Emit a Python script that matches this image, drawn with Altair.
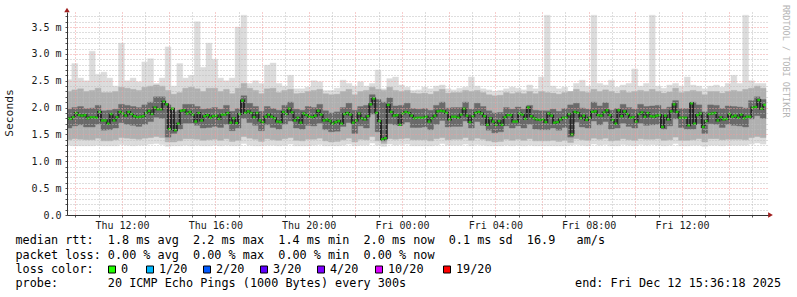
import altair as alt
import pandas as pd

MONO = "DejaVu Sans Mono"

# time axis in hours since Thu 00:00
START_H = 9.6
COL_H = 0.25      # 15-minute smoke columns
HALF_H = 0.125    # 7.5-minute median steps
X_DOMAIN = [9.643, 39.686]
Y_DOMAIN = [0, 3.78]

# ---- smoke (ms) per 15-min column ----
ping_max = [
2.52,2.82,2.55,2.50,3.05,2.62,2.66,2.55,2.40,3.20,
2.50,2.55,2.48,2.85,2.91,2.45,2.55,3.13,2.40,2.82,
2.55,2.60,3.60,2.75,3.20,2.90,2.55,2.50,2.55,3.50,
3.72,2.45,2.50,2.45,2.79,2.83,2.45,2.40,2.60,2.35,
2.35,2.38,2.50,2.48,2.32,2.32,2.36,2.51,2.45,2.40,
2.48,2.40,2.45,2.70,2.35,2.54,2.57,2.42,2.38,2.32,
2.33,2.38,2.35,2.40,2.42,2.35,2.33,2.36,2.38,2.57,
2.40,2.35,2.33,2.30,2.32,2.35,2.38,2.36,2.33,2.42,
2.35,2.57,3.72,2.40,2.35,2.38,2.30,2.45,2.51,2.40,
3.72,2.45,2.42,2.51,2.38,2.42,2.45,2.72,2.40,2.45,
3.72,2.40,2.36,2.42,2.45,2.40,2.57,2.42,2.40,2.35,
2.40,2.42,2.38,2.45,2.60,2.45,3.72,2.50,2.45,2.45]

smoke_hi = [
2.30,2.33,2.35,2.30,2.32,2.36,2.28,2.28,2.30,2.38,
2.36,2.34,2.32,2.38,2.40,2.42,2.40,2.32,2.25,2.28,
2.36,2.38,2.35,2.30,2.36,2.36,2.30,2.34,2.26,2.36,
2.45,2.36,2.32,2.26,2.35,2.36,2.28,2.32,2.34,2.26,
2.27,2.30,2.32,2.34,2.26,2.24,2.25,2.30,2.34,2.24,
2.30,2.32,2.38,2.34,2.32,2.38,2.32,2.30,2.32,2.27,
2.26,2.27,2.25,2.30,2.34,2.27,2.28,2.28,2.32,2.30,
2.32,2.28,2.24,2.22,2.23,2.28,2.26,2.28,2.26,2.30,
2.26,2.30,2.28,2.27,2.25,2.28,2.30,2.34,2.30,2.28,
2.34,2.30,2.33,2.30,2.27,2.32,2.28,2.30,2.32,2.30,
2.34,2.30,2.27,2.29,2.36,2.28,2.30,2.32,2.30,2.24,
2.30,2.30,2.27,2.30,2.32,2.30,2.34,2.36,2.40,2.36]

core_hi = [
1.97,2.00,2.02,1.98,1.99,2.04,1.94,1.95,1.97,2.06,
2.04,2.02,2.00,2.05,2.10,2.20,2.20,2.05,1.92,1.95,
2.06,2.06,2.02,1.97,1.98,2.00,1.97,2.04,1.93,1.98,
2.22,2.08,2.02,1.93,2.02,1.98,1.95,2.04,2.10,1.97,
1.95,2.02,2.00,2.06,1.94,1.90,1.92,2.00,2.08,1.95,
2.02,2.04,2.24,2.15,2.10,2.18,2.03,2.04,2.08,1.98,
1.97,1.98,1.95,2.04,2.10,1.99,2.00,2.00,2.10,1.97,
2.08,2.02,1.94,1.90,1.91,2.00,1.97,2.01,1.97,2.04,
1.95,1.94,1.94,1.97,1.93,1.98,2.05,2.08,1.99,1.97,
2.10,2.03,2.09,1.95,1.98,2.06,2.00,1.97,2.06,2.02,
2.03,2.04,1.97,2.01,2.13,1.98,1.98,2.10,2.05,1.92,
2.05,2.04,1.98,2.03,2.02,2.01,1.99,2.13,2.20,2.15]

core_lo = [
1.62,1.66,1.68,1.64,1.64,1.69,1.58,1.59,1.62,1.72,
1.69,1.67,1.65,1.69,1.74,1.82,1.80,1.45,1.52,1.60,
1.71,1.71,1.67,1.62,1.63,1.65,1.63,1.69,1.57,1.62,
1.80,1.72,1.67,1.57,1.68,1.63,1.60,1.69,1.75,1.62,
1.60,1.67,1.66,1.71,1.59,1.55,1.56,1.65,1.72,1.52,
1.66,1.62,1.88,1.55,1.38,1.70,1.68,1.69,1.73,1.63,
1.63,1.64,1.59,1.69,1.76,1.64,1.65,1.65,1.75,1.62,
1.74,1.67,1.58,1.53,1.55,1.66,1.62,1.66,1.62,1.69,
1.60,1.59,1.59,1.62,1.58,1.63,1.45,1.73,1.64,1.62,
1.75,1.68,1.74,1.60,1.62,1.71,1.65,1.62,1.71,1.67,
1.68,1.69,1.60,1.66,1.79,1.63,1.60,1.60,1.70,1.52,
1.70,1.69,1.63,1.69,1.67,1.66,1.64,1.79,1.85,1.80]

smoke_lo = [
1.40,1.42,1.41,1.40,1.40,1.43,1.38,1.38,1.40,1.44,
1.43,1.42,1.41,1.43,1.44,1.46,1.44,1.36,1.36,1.38,
1.42,1.42,1.41,1.39,1.40,1.41,1.39,1.42,1.37,1.39,
1.46,1.43,1.41,1.37,1.42,1.40,1.39,1.42,1.44,1.39,
1.38,1.41,1.41,1.43,1.38,1.36,1.37,1.40,1.43,1.36,
1.41,1.40,1.46,1.38,1.33,1.42,1.41,1.42,1.43,1.40,
1.40,1.40,1.38,1.42,1.44,1.40,1.41,1.41,1.44,1.39,
1.43,1.41,1.38,1.36,1.37,1.41,1.39,1.41,1.39,1.42,
1.38,1.38,1.38,1.39,1.37,1.39,1.35,1.42,1.40,1.39,
1.43,1.41,1.43,1.38,1.39,1.42,1.40,1.39,1.42,1.41,
1.41,1.42,1.39,1.40,1.45,1.39,1.39,1.40,1.42,1.36,
1.42,1.42,1.40,1.41,1.41,1.41,1.40,1.44,1.46,1.44]

ping_min = [
1.30,1.29,1.29,1.29,1.29,1.30,1.29,1.29,1.29,1.31,
1.30,1.29,1.30,1.30,1.32,1.33,1.31,1.28,1.29,1.29,
1.30,1.29,1.30,1.29,1.29,1.30,1.29,1.30,1.29,1.29,
1.33,1.30,1.29,1.29,1.30,1.30,1.29,1.30,1.32,1.29,
1.29,1.29,1.30,1.31,1.29,1.29,1.29,1.30,1.32,1.29,
1.30,1.30,1.34,1.30,1.28,1.32,1.30,1.31,1.32,1.29,
1.29,1.29,1.29,1.30,1.33,1.30,1.30,1.30,1.32,1.29,
1.31,1.30,1.29,1.29,1.29,1.30,1.29,1.30,1.29,1.30,
1.29,1.29,1.29,1.29,1.29,1.29,1.30,1.31,1.30,1.29,
1.32,1.30,1.31,1.29,1.29,1.31,1.30,1.29,1.31,1.30,
1.31,1.30,1.29,1.30,1.33,1.29,1.29,1.30,1.30,1.28,
1.30,1.30,1.29,1.30,1.30,1.30,1.30,1.32,1.34,1.32]

# ---- median rtt (ms) per 7.5-min step ----
median_rtt = [
1.80,1.79,1.82,1.90,1.86,1.85,1.86,1.80,1.82,1.82,
1.81,1.92,1.76,1.76,1.70,1.88,1.76,1.82,1.92,1.89,
1.85,1.92,1.88,1.84,1.82,1.83,1.84,1.90,1.94,1.88,
2.00,1.97,1.97,2.11,2.06,1.60,1.98,1.58,1.70,1.94,
1.95,1.89,1.92,1.87,1.74,1.90,1.76,1.84,1.86,1.81,
1.84,1.85,1.79,1.87,1.87,1.90,1.72,1.80,1.71,1.88,
2.13,1.90,1.93,1.90,1.82,1.90,1.76,1.73,1.83,1.87,
1.83,1.80,1.74,1.73,1.92,1.88,1.98,1.91,1.76,1.81,
1.72,1.89,1.86,1.83,1.82,1.85,1.94,1.87,1.76,1.78,
1.75,1.70,1.73,1.75,1.70,1.88,1.90,1.87,1.72,1.76,
1.89,1.80,1.78,1.84,2.06,2.17,1.90,1.75,1.41,1.43,
2.05,1.92,1.85,1.86,1.68,1.89,1.92,1.90,1.85,1.80,
1.81,1.81,1.81,1.83,1.74,1.80,1.85,1.93,1.94,1.93,
1.90,1.78,1.83,1.83,1.81,1.87,1.98,1.85,1.73,1.84,
1.90,1.92,1.89,1.84,1.68,1.80,1.74,1.68,1.75,1.68,
1.82,1.86,1.86,1.74,1.74,1.89,1.87,1.79,2.00,1.84,
1.80,1.78,1.77,1.78,1.73,1.89,1.85,1.72,1.73,1.78,
1.81,1.81,1.88,1.50,1.92,1.90,1.80,1.85,1.77,1.81,
1.92,1.93,1.86,1.85,1.91,1.95,1.86,1.77,1.70,1.95,
1.84,1.93,1.88,1.81,1.82,1.74,1.88,1.91,1.83,1.90,
1.84,1.83,1.85,1.86,1.64,1.85,1.78,1.93,2.06,1.92,
1.81,1.81,1.81,1.67,2.08,1.70,1.86,1.89,1.64,1.75,
1.88,1.89,1.90,1.76,1.82,1.78,1.79,1.88,1.83,1.85,
1.81,1.87,1.80,1.83,1.83,2.00,2.01,2.14,1.98,2.05]

# ---- axis ticks ----
tick_hours = [12, 16, 20, 24, 28, 32, 36]
tick_labels = ["Thu 12:00", "Thu 16:00", "Thu 20:00", "Fri 00:00",
               "Fri 04:00", "Fri 08:00", "Fri 12:00"]
y_tick_vals = [0.0, 0.5, 1.0, 1.5, 2.0, 2.5, 3.0, 3.5]
y_tick_labels = ["0.0", "0.5 m", "1.0 m", "1.5 m", "2.0 m", "2.5 m", "3.0 m", "3.5 m"]

# ---- legend texts ----
stat_lines = [
    "median rtt:  1.8 ms avg  2.2 ms max  1.4 ms min  2.0 ms now  0.1 ms sd  16.9   am/s",
    "packet loss: 0.00 % avg  0.00 % max  0.00 % min  0.00 % now",
    "loss color:",
    "probe:       20 ICMP Echo Pings (1000 Bytes) every 300s",
]
end_text = "end: Fri Dec 12 15:36:18 2025"
loss_labels = ["0", "1/20", "2/20", "3/20", "4/20", "10/20", "19/20"]
loss_colors = ["#20ff00", "#00b8ff", "#0059ff", "#5e00ff", "#7e00ff", "#dd00ff", "#ff0000"]

# ---------------- build ----------------
n = len(ping_max)
smoke = pd.DataFrame({
    "t0": [START_H + COL_H * i for i in range(n)],
    "t1": [START_H + COL_H * (i + 1) for i in range(n)],
    "pmin": ping_min, "pmax": ping_max,
    "slo": smoke_lo, "shi": smoke_hi,
    "clo": core_lo, "chi": core_hi,
})
med = pd.DataFrame({
    "tc": [START_H + HALF_H * (k + 0.5) for k in range(len(median_rtt))],
    "m": median_rtt,
})

GRID_MAJOR = "#ee9c9c"
GRID_MINOR = "#bdbdbd"

x_expr = "".join(f"datum.value == {h} ? '{l}' : " for h, l in zip(tick_hours, tick_labels)) + "''"
y_expr = "".join(f"abs(datum.value - {v}) < 0.001 ? '{l}' : " for v, l in zip(y_tick_vals, y_tick_labels)) + "''"

x_scale = alt.Scale(domain=X_DOMAIN, nice=False, zero=False)
y_scale = alt.Scale(domain=Y_DOMAIN, nice=False, zero=False)

x_axis = alt.Axis(
    values=list(range(10, 40)), title=None, labelExpr=x_expr,
    labelFont=MONO, labelFontSize=10, labelColor="#1a1a1a", labelPadding=3,
    labelFlush=False, labelOverlap=False, tickSize=2, tickColor="#555555",
    domainColor="#333333", grid=True,
    gridColor={"condition": {"test": "datum.value % 2 == 0", "value": GRID_MAJOR}, "value": GRID_MINOR},
    gridDash=[1, 2], gridWidth=1, zindex=1,
)
y_axis = alt.Axis(
    values=[round(0.1 * i, 1) for i in range(38)], title=None, labelExpr=y_expr,
    labelFont=MONO, labelFontSize=10, labelColor="#1a1a1a", labelPadding=4,
    labelFlush=False, labelOverlap=False, tickSize=2, tickColor="#555555",
    domainColor="#333333", grid=True,
    gridColor={"condition": {"test": "abs(datum.value*2 - round(datum.value*2)) < 0.001", "value": GRID_MAJOR}, "value": GRID_MINOR},
    gridDash=[1, 2], gridWidth=1, zindex=1,
)

def band(lo, hi, color):
    return alt.Chart(smoke).mark_rect(color=color, stroke=color, strokeWidth=0.4, clip=True).encode(
        x=alt.X("t0:Q", scale=x_scale, axis=x_axis), x2="t1:Q",
        y=alt.Y(f"{lo}:Q", scale=y_scale, axis=y_axis), y2=f"{hi}:Q",
    )

layers = [
    band("pmin", "pmax", "#dcdcdc"),
    band("slo", "shi", "#b0b0b0"),
    band("clo", "chi", "#6a6a6a"),
]

layers.append(alt.Chart(med).mark_line(interpolate="step", color="#262626", strokeWidth=2, clip=True).encode(
    x=alt.X("tc:Q", scale=x_scale, axis=x_axis),
    y=alt.Y("m:Q", scale=y_scale, axis=y_axis),
))
layers.append(alt.Chart(med).mark_tick(orient="horizontal", size=2.8, thickness=2.4, color="#1eff00", clip=True).encode(
    x=alt.X("tc:Q", scale=x_scale, axis=x_axis),
    y=alt.Y("m:Q", scale=y_scale, axis=y_axis),
))

one = pd.DataFrame({"a": [0]})
# axis arrows
layers.append(alt.Chart(one).mark_point(shape="triangle-up", filled=True, size=30, color="#a01e1e", opacity=1).encode(
    x=alt.value(0), y=alt.value(-2)))
layers.append(alt.Chart(one).mark_point(shape="triangle-right", filled=True, size=30, color="#a01e1e", opacity=1).encode(
    x=alt.value(703.5), y=alt.value(203)))

def txt(s, x, y, **kw):
    d = pd.DataFrame({"t": [s.replace(" ", "\u00a0")]})
    return alt.Chart(d).mark_text(font=MONO, **kw).encode(text="t:N", x=alt.value(x), y=alt.value(y))

# titles / watermark
layers.append(txt("Seconds", -57, 101, fontSize=11.3, angle=270, align="center", baseline="middle", color="#1a1a1a"))
layers.append(txt("RRDTOOL / TOBI OETIKER", 719, -7, fontSize=8.5, angle=90, align="left", baseline="middle", color="#b4b4b4"))

# legend lines
baselines = [232.4, 246.6, 260.8, 275.0]
for s, yb in zip(stat_lines, baselines):
    layers.append(txt(s, -51.5, yb, fontSize=11.8, align="left", baseline="alphabetic", color="#000000"))
layers.append(txt(end_text, 714, baselines[3], fontSize=11.8, align="right", baseline="alphabetic", color="#000000"))

box_x = [108, 146, 203, 260, 317, 375, 443]
for bx, lab, col in zip(box_x, loss_labels, loss_colors):
    layers.append(alt.Chart(one).mark_square(size=49, filled=True, color=col, stroke="#000000", strokeWidth=1, opacity=1).encode(
        x=alt.value(bx + 4 - 67), y=alt.value(257.5)))
    layers.append(txt(lab, bx + 13 - 67, baselines[2], fontSize=11.8, align="left", baseline="alphabetic", color="#000000"))

chart = alt.layer(*layers).properties(
    width=701, height=203,
    padding={"left": 67, "top": 12, "right": 29, "bottom": 82},
    autosize=alt.AutoSizeParams(type="none"),
    background="#ffffff",
).configure_view(stroke=None)

chart.save("out.html", embed_options={"renderer": "svg", "actions": False})
